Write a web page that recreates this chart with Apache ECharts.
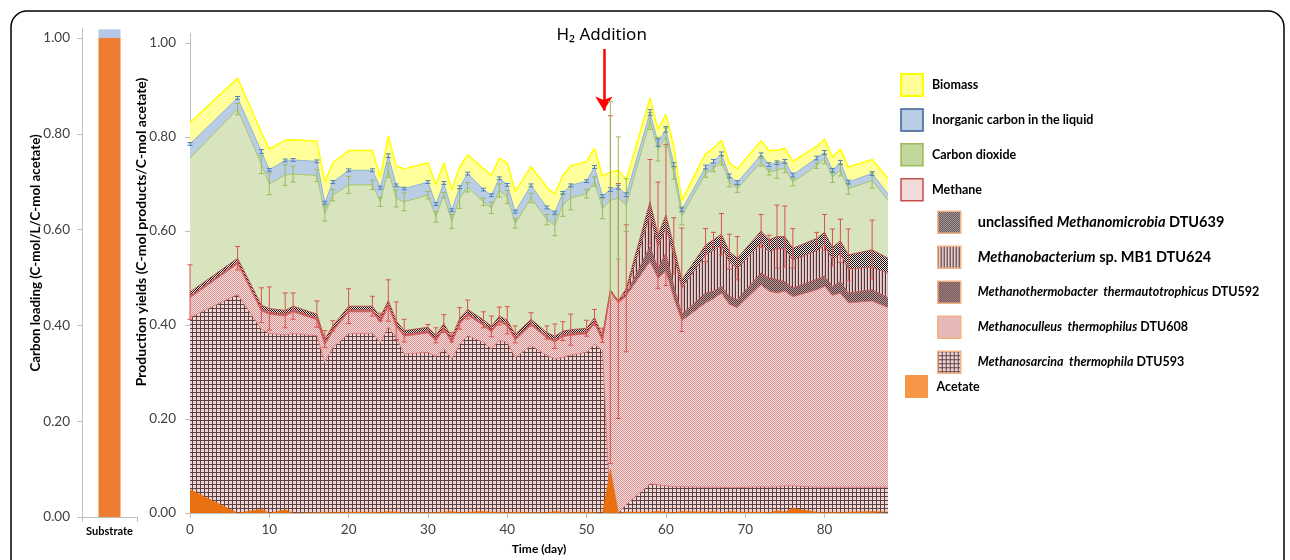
<!DOCTYPE html>
<html><head><meta charset="utf-8">
<script src="https://cdn.jsdelivr.net/npm/echarts@6/dist/echarts.min.js"></script>
<style>html,body{margin:0;padding:0;background:#fff}#c{width:1290px;height:560px}</style>
</head><body><div id="c"></div><script>
// ---------- data ----------
const substrateCategories = ['Substrate'];
const substrateAcetate = [1.0];
const substrateInorganic = [0.018];

const days = [0,6,9,10,12,13,16,17,18,20,23,24,25,26,27,30,31,32,33,34,35,37,38,39,40,41,43,45,46,47,48,50,51,52,53,54,55,58,59,60,61,62,65,66,67,68,69,72,73,74,75,76,79,80,81,82,83,86,88];

// yield of each component (C-mol/C-mol acetate), layers stacked bottom -> top
const methanosarcina = [.416,.465,.391,.382,.379,.382,.377,.321,.352,.382, .382,.363,.395,.373,.338,.342,.333,.349,.328,.359, .377,.363,.349,.367,.363,.331,.356,.335,.328,.331, .336,.342,.359,.345,0,0,.018,.062,.060,.058, .056,.056,.055,.055,.055,.054,.054,.056,.055,.056, .058,.058,.055,.055,.055,.055,.055,.055,.055];
const methanoculleus = [.042,.065,.039,.041,.040,.046,.034,.037,.034,.046, .046,.042,.045,.024,.038,.041,.033,.042,.034,.043, .044,.036,.036,.040,.035,.037,.044,.037,.036,.044, .042,.039,.045,.021,.470,.447,.444,.473,.440,.456, .402,.353,.392,.401,.413,.390,.383,.430,.417,.412, .414,.402,.420,.427,.408,.413,.392,.396,.382];
const methanothermobacter = [.002,.002,.002,.002,.002,.002,.002,.002,.002,.002, .002,.002,.002,.002,.002,.002,.002,.002,.002,.002, .002,.002,.002,.002,.002,.002,.002,.002,.002,.002, .002,.002,.002,.002,.002,.001,.004,.032,.021,.039, .025,.014,.021,.016,.014,.017,.017,.025,.028,.029, .020,.019,.022,.022,.019,.025,.021,.024,.021];
const methanobacterium = [.002,.002,.002,.002,.002,.002,.002,.002,.002,.002, .002,.002,.002,.002,.002,.002,.002,.002,.002,.002, .002,.002,.002,.002,.002,.002,.002,.002,.002,.002, .002,.002,.002,.002,.001,.001,.004,.067,.045,.053, .065,.055,.081,.087,.087,.073,.066,.063,.056,.065, .070,.059,.061,.066,.057,.058,.051,.048,.052];
const unclassified = [.008,.008,.008,.008,.008,.008,.008,.008,.008,.008, .008,.008,.008,.008,.008,.008,.008,.008,.008,.008, .008,.008,.008,.008,.008,.008,.008,.008,.008,.008, .008,.008,.008,.008,.002,.002,.008,.028,.025,.028, .020,.018,.021,.022,.024,.022,.022,.026,.025,.026, .026,.025,.026,.027,.026,.028,.030,.037,.032];
const carbonDioxide = [.285,.317,.299,.265,.288,.281,.295,.267,.278,.258, .258,.245,.277,.260,.274,.281,.252,.273,.246,.255, .260,.251,.252,.267,.262,.236,.258,.240,.236,.268, .280,.286,.289,.270,.190,.219,.177,.172,.183,.165, .154,.136,.152,.151,.157,.148,.148,.146,.144,.141, .146,.141,.155,.156,.150,.150,.141,.147,.123];
const inorganicCarbon = [.030,.024,.028,.030,.031,.030,.030,.023,.028,.031, .031,.030,.031,.028,.028,.028,.027,.026,.024,.024, .029,.026,.027,.026,.026,.025,.027,.026,.027,.026, .027,.027,.031,.026,.023,.023,.022,.018,.014,.017, .019,.013,.014,.016,.014,.013,.013,.016,.016,.016, .014,.015,.016,.014,.014,.017,.014,.015,.014];
const biomass = [.045,.042,.041,.044,.043,.043,.043,.044,.041,.042, .042,.022,.042,.041,.042,.041,.041,.043,.044,.043, .040,.045,.042,.043,.047,.043,.040,.043,.040,.037, .041,.042,.040,.043,.037,.036,.032,.031,.028,.032, .039,.020,.028,.028,.029,.028,.029,.030,.030,.026, .028,.029,.025,.028,.028,.028,.032,.030,.033];
const acetate = [.050,0,.008,0,.007,0,.001,.002,.001,.002, .002,.001,.003,.002,.001,.001,.001,.002,.003,.001, .002,.003,.002,.002,.001,.002,.001,.001,.003,.002, .001,.002,.001,0,.093,0,.002,.002,.003,.002, .001,.003,.002,.003,.001,.003,.002,.002,.001,.005, .002,.010,.002,.001,.002,.001,.002,.003,.002];

const methaneErr = [.058,.025,.037,.046,.037,.028,.028,.018,.011,.037, .021,.008,.044,.040,.024,.006,.016,.019,.010,.023, .020,.017,.022,.019,.029,.018,.014,.014,.026,.020, .033,.017,.017,.015,.370,.250,.135,.090,.113,.150, .060,.110,.035,.016,.044,.037,.046,.035,.010,.067, .065,.042,.013,.038,.039,.046,.055,.063,0];
const co2Err = [0,.012,.019,.023,.022,.017,.013,.016,.012,.018, .010,.010,.015,.018,.019,.008,.011,.006,.015,.021, .010,.008,.012,.014,.014,.010,.010,.011,.022,.024, .025,.009,.010,.022,.210,.130,.056,.018,.025,.020, .012,.019,.008,.006,.010,.010,.008,.008,.006,.017, .010,.008,.006,.010,.012,.012,.012,.016,0];
const inorgErr = [.003,.003,.004,.003,.003,.003,.003,.003,.003,.003, .003,.003,.004,.003,.003,.003,.003,.003,.003,.003, .003,.003,.003,.003,.003,.003,.003,.003,.003,.003, .003,.003,.003,.003,.004,.004,.004,.006,.008,.006, .004,.004,.004,.004,.004,.004,.004,.004,.004,.004, .004,.004,.004,.004,.004,.004,.004,.004,0];

const xTicks = {min:0, max:88, interval:10};
const yTicks = {min:0, max:1.02, interval:0.2};

// ---------- patterns ----------
function tile(w, h, draw){ const c = document.createElement('canvas'); c.width = w; c.height = h; draw(c.getContext('2d')); return {image:c, repeat:'repeat'}; }
const patSarcina = tile(4,4,g=>{g.fillStyle='#f3d3d3';g.fillRect(0,0,4,4);g.fillStyle='#574242';g.fillRect(0,0,4,1);g.fillRect(0,0,1,4);});
const patCulleus = tile(2,2,g=>{g.fillStyle='#f7dcdc';g.fillRect(0,0,2,2);g.fillStyle='#d99494';g.fillRect(0,0,1,1);g.fillRect(1,1,1,1);});
const patThermo = tile(2,2,g=>{g.fillStyle='#c09c9c';g.fillRect(0,0,2,2);g.fillStyle='#573d3d';g.fillRect(0,0,1,1);g.fillRect(1,1,1,1);});
const patBact = tile(3,1,g=>{g.fillStyle='#ecd0d0';g.fillRect(0,0,3,1);g.fillStyle='#4d3838';g.fillRect(0,0,1,1);g.fillStyle='#d6b6b6';g.fillRect(2,0,1,1);});
const patUncl = tile(2,2,g=>{g.fillStyle='#f2e2e2';g.fillRect(0,0,2,2);g.fillStyle='#1a1212';g.fillRect(0,0,1,1);g.fillRect(1,1,1,1);});

// ---------- cumulative tops (manual stacking) ----------
const layersBottomUp = [methanosarcina, methanoculleus, methanothermobacter, methanobacterium, unclassified, carbonDioxide, inorganicCarbon, biomass];
const cum = [];
layersBottomUp.forEach((arr, k)=>{ cum.push(arr.map((v,i)=> v + (k ? cum[k-1][i] : 0))); });
const [topSarcina, topCulleus, topThermo, topBact, topUncl, topCO2, topInorg, topBiomass] = cum;

const FONT = 'Lato, "Open Sans", sans-serif';

function layer(name, tops, fill, line, lw){
  return {name, type:'line', xAxisIndex:1, yAxisIndex:1, symbol:'none', silent:true,
    data: days.map((d,i)=>[d, tops[i]]), lineStyle:{color:line, width:lw}, areaStyle:{color:fill, opacity:1, origin:'start'}, z:2};
}
function errSeries(tops, errs, color){
  return {type:'custom', xAxisIndex:1, yAxisIndex:1, silent:true, z:6, encode:{x:0,y:1},
    data: days.map((d,i)=>[d, tops[i], errs[i]]),
    renderItem:(params, api)=>{
      const x = api.value(0), c = api.value(1), e = api.value(2);
      if(!e) return null;
      const p1 = api.coord([x, c+e]), p2 = api.coord([x, c-e]), w = 2.5;
      const st = {stroke:color, lineWidth:1};
      return {type:'group', children:[
        {type:'line', shape:{x1:p1[0],y1:p1[1],x2:p2[0],y2:p2[1]}, style:st},
        {type:'line', shape:{x1:p1[0]-w,y1:p1[1],x2:p1[0]+w,y2:p1[1]}, style:st},
        {type:'line', shape:{x1:p2[0]-w,y1:p2[1],x2:p2[0]+w,y2:p2[1]}, style:st}
      ]};
    }};
}

const rich = {
  L:{fontFamily:FONT, fontWeight:'bold', fontSize:14.5, color:'#000'},
  LI:{fontFamily:FONT, fontWeight:'bold', fontStyle:'italic', fontSize:14.5, color:'#000'},
  S:{fontFamily:FONT, fontWeight:'bold', fontSize:12.5, color:'#000'},
  SI:{fontFamily:FONT, fontWeight:'bold', fontStyle:'italic', fontSize:12.5, color:'#000'}
};
const richMap = {
  'unclassified Methanomicrobia DTU639':'{L|unclassified }{LI|Methanomicrobia}{L| DTU639}',
  'Methanobacterium sp. MB1 DTU624':'{LI|Methanobacterium}{L| sp. MB1 DTU624}',
  'Methanothermobacter thermautotrophicus DTU592':'{SI|Methanothermobacter  thermautotrophicus}{S| DTU592}',
  'Methanoculleus thermophilus DTU608':'{SI|Methanoculleus  thermophilus}{S| DTU608}',
  'Methanosarcina thermophila DTU593':'{SI|Methanosarcina  thermophila}{S| DTU593}'
};
const speciesBorder = '#f4b183';

const option = {
  animation:false,
  textStyle:{fontFamily:FONT},
  grid:[
    {left:82, top:28.4, width:55, height:488.6},
    {left:190, top:33.5, width:698, height:483.5}
  ],
  xAxis:[
    {type:'category', gridIndex:0, data:substrateCategories,
      axisLine:{lineStyle:{color:'#bfbfbf'}}, axisTick:{show:true, length:5, lineStyle:{color:'#bfbfbf'}},
      axisLabel:{fontFamily:FONT, fontWeight:'bold', fontSize:11, color:'#000', margin:9}},
    {type:'value', gridIndex:1, min:xTicks.min, max:xTicks.max, interval:xTicks.interval,
      name:'Time (day)', nameLocation:'middle', nameGap:30, nameTextStyle:{fontFamily:FONT, fontWeight:'bold', fontSize:12, color:'#000'},
      splitLine:{show:false}, axisLine:{onZero:false, lineStyle:{color:'#bfbfbf'}}, axisTick:{length:5, lineStyle:{color:'#bfbfbf'}},
      axisLabel:{fontFamily:FONT, fontSize:13.5, color:'#404040', margin:10, showMaxLabel:false}}
  ],
  yAxis:[
    {type:'value', gridIndex:0, min:yTicks.min, max:yTicks.max, interval:yTicks.interval,
      splitLine:{show:false}, axisLine:{show:true, lineStyle:{color:'#bfbfbf'}}, axisTick:{show:true, length:5, lineStyle:{color:'#bfbfbf'}},
      axisLabel:{fontFamily:FONT, fontSize:13.5, color:'#404040', margin:12, showMaxLabel:false, formatter:v=>v.toFixed(2)}},
    {type:'value', gridIndex:1, min:yTicks.min, max:yTicks.max, interval:yTicks.interval,
      splitLine:{show:false}, axisLine:{show:true, onZero:false, lineStyle:{color:'#bfbfbf'}}, axisTick:{show:true, length:5, lineStyle:{color:'#bfbfbf'}},
      axisLabel:{fontFamily:FONT, fontSize:13.5, color:'#404040', margin:14, showMaxLabel:false, formatter:v=>v.toFixed(2)}}
  ],
  legend:[
    {orient:'vertical', left:900, top:73, padding:0, itemWidth:22, itemHeight:22, itemGap:11.3, icon:'rect', selectedMode:false,
      textStyle:{fontFamily:FONT, fontWeight:'bold', fontSize:12.5, color:'#000', padding:[0,0,0,4]},
      data:[
        {name:'Biomass', itemStyle:{color:'#ffff99', borderColor:'#ffff00', borderWidth:2}},
        {name:'Inorganic carbon in the liquid', itemStyle:{color:'#b9cde5', borderColor:'#385d8a', borderWidth:1.5}},
        {name:'Carbon dioxide', itemStyle:{color:'#c3d69b', borderColor:'#9bbb59', borderWidth:1.5}},
        {name:'Methane', itemStyle:{color:'#f2dcdb', borderColor:'#c0504d', borderWidth:1.5}}
      ]},
    {orient:'vertical', left:937, top:210.5, padding:0, itemWidth:23, itemHeight:22, itemGap:11.5, icon:'rect', selectedMode:false,
      formatter:n=>richMap[n]||n,
      textStyle:{fontFamily:FONT, fontWeight:'bold', fontSize:13, color:'#000', padding:[0,0,0,12], rich:rich},
      data:[
        {name:'unclassified Methanomicrobia DTU639', itemStyle:{color:patUncl, borderColor:speciesBorder, borderWidth:1.5}},
        {name:'Methanobacterium sp. MB1 DTU624', itemStyle:{color:patBact, borderColor:speciesBorder, borderWidth:1.5}},
        {name:'Methanothermobacter thermautotrophicus DTU592', itemStyle:{color:patThermo, borderColor:speciesBorder, borderWidth:1.5}},
        {name:'Methanoculleus thermophilus DTU608', itemStyle:{color:patCulleus, borderColor:speciesBorder, borderWidth:1.5}},
        {name:'Methanosarcina thermophila DTU593', itemStyle:{color:patSarcina, borderColor:speciesBorder, borderWidth:1.5}}
      ]},
    {orient:'vertical', left:905, top:375, padding:0, itemWidth:22, itemHeight:22, icon:'rect', selectedMode:false,
      textStyle:{fontFamily:FONT, fontWeight:'bold', fontSize:12.5, color:'#000', padding:[0,0,0,4]},
      data:[{name:'Acetate', itemStyle:{color:'#f79646', borderColor:'#f79646', borderWidth:1}}]}
  ],
  graphic:[
    {type:'rect', silent:true, shape:{x:11, y:11, width:1273, height:610, r:16}, style:{fill:'none', stroke:'#000', lineWidth:1.5}},
    {type:'text', silent:true, x:36, y:253, rotation:Math.PI/2,
      style:{text:'Carbon loading (C-mol/L/C-mol acetate)', font:'bold 13.3px '+FONT, fill:'#000', align:'center', verticalAlign:'middle'}},
    {type:'text', silent:true, x:141, y:232, rotation:Math.PI/2,
      style:{text:'Production yields (C-mol products/C-mol acetate)', font:'bold 14px '+FONT, fill:'#000', align:'center', verticalAlign:'middle'}}
  ],
  series:[
    {name:'Substrate acetate', type:'bar', xAxisIndex:0, yAxisIndex:0, stack:'sub', barWidth:22, silent:true, data:substrateAcetate, itemStyle:{color:'#ed7d31'}},
    {name:'Substrate inorganic carbon', type:'bar', xAxisIndex:0, yAxisIndex:0, stack:'sub', barWidth:22, silent:true, data:substrateInorganic, itemStyle:{color:'#b4c7e7'}},
    Object.assign(layer('Biomass', topBiomass, '#ffff9c', '#ffff00', 1.5), {
      markLine:{silent:true, symbol:['none','arrow'], symbolSize:[13,14], label:{show:false},
        lineStyle:{color:'#ff0000', width:2.5, type:'solid'},
        data:[[{coord:[52.18, 0.987]},{coord:[52.18, 0.856]}]]},
      markPoint:{silent:true, symbol:'circle', symbolSize:0,
        label:{show:true, position:'inside', formatter:'H₂ Addition', fontFamily:'"Noto Sans", '+FONT, fontSize:17, color:'#000'},
        data:[{coord:[51.9, 1.017]}]}
    }),
    layer('Inorganic carbon in the liquid', topInorg, '#b9cde5', '#95b3d7', 1),
    layer('Carbon dioxide', topCO2, '#d7e4bd', '#a8c66c', 1),
    layer('unclassified Methanomicrobia DTU639', topUncl, patUncl, '#c04040', 0.8),
    layer('Methanobacterium sp. MB1 DTU624', topBact, patBact, '#d05050', 0.8),
    layer('Methanothermobacter thermautotrophicus DTU592', topThermo, patThermo, '#d05050', 0.8),
    layer('Methanoculleus thermophilus DTU608', topCulleus, patCulleus, '#e06060', 0.8),
    layer('Methanosarcina thermophila DTU593', topSarcina, patSarcina, '#e57373', 0.8),
    {name:'Methane', type:'line', xAxisIndex:1, yAxisIndex:1, data:[]},
    {name:'Acetate', type:'line', xAxisIndex:1, yAxisIndex:1, symbol:'none', silent:true, z:4,
      data: days.map((d,i)=>[d, acetate[i]]), lineStyle:{color:'#e46c0a', width:0.5}, areaStyle:{color:'#e8700f', opacity:1}},
    errSeries(topUncl, methaneErr, '#d9534f'),
    errSeries(topCO2, co2Err, '#9bbb59'),
    errSeries(topInorg, inorgErr, '#4f81bd')
  ]
};
const chart = echarts.init(document.getElementById('c'));
chart.setOption(option);
</script></body></html>
